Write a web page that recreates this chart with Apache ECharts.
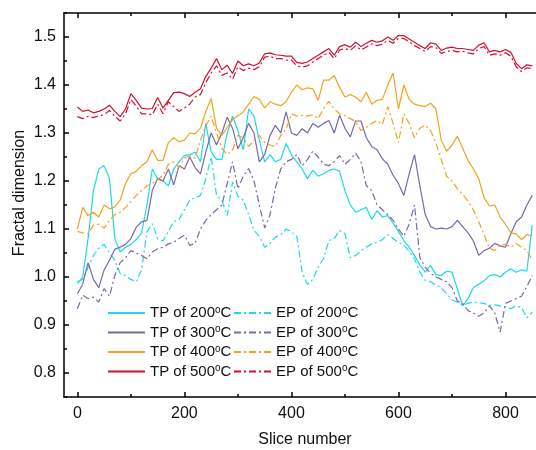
<!DOCTYPE html>
<html><head><meta charset="utf-8">
<script src="https://cdn.jsdelivr.net/npm/echarts@6/dist/echarts.min.js"></script>
<style>html,body{margin:0;padding:0;background:#fff}#c{width:536px;height:450px}</style>
</head><body><div id="c"></div>
<script>
// slice numbers (every 10th slice)
const slices = [];
for (let s = 0; s <= 850; s += 10) slices.push(s);

const tp200 = [0.986,1.000,1.080,1.180,1.225,1.232,1.205,1.080,1.052,1.062,
1.068,1.078,1.092,1.150,1.225,1.205,1.200,1.190,1.225,1.240,
1.253,1.255,1.260,1.240,1.320,1.260,1.245,1.245,1.300,1.335,
1.305,1.265,1.350,1.335,1.285,1.240,1.255,1.240,1.245,1.278,
1.255,1.240,1.225,1.205,1.222,1.210,1.215,1.222,1.225,1.220,
1.180,1.150,1.135,1.140,1.145,1.120,1.138,1.125,1.128,1.112,
1.095,1.076,1.062,1.045,1.025,1.010,1.024,1.005,1.003,1.012,
1.010,0.975,0.940,0.955,0.978,0.985,0.992,1.003,1.005,1.000,
1.010,1.017,1.010,1.015,1.012,1.108];
const ep200 = [0.990,0.995,1.020,1.045,1.060,1.068,1.050,1.035,1.007,1.003,
0.995,0.990,1.015,1.094,1.111,1.080,1.075,1.095,1.115,1.120,
1.140,1.160,1.165,1.170,1.205,1.250,1.170,1.160,1.128,1.198,
1.168,1.160,1.130,1.097,1.085,1.062,1.070,1.083,1.088,1.100,
1.094,1.085,1.010,0.985,0.995,1.021,1.038,1.076,1.080,1.097,
1.090,1.040,1.045,1.055,1.062,1.069,1.072,1.078,1.088,1.080,
1.072,1.066,1.054,1.038,1.010,0.993,0.990,0.983,0.978,0.965,
0.952,0.948,0.941,0.945,0.948,0.946,0.945,0.941,0.942,0.940,
0.938,0.934,0.940,0.936,0.915,0.927];
const tp300 = [0.965,0.985,1.030,0.995,0.978,1.015,1.035,1.058,1.062,1.068,
1.080,1.104,1.115,1.118,1.180,1.205,1.200,1.225,1.192,1.232,
1.225,1.250,1.228,1.215,1.260,1.300,1.275,1.300,1.333,1.310,
1.267,1.290,1.320,1.300,1.240,1.255,1.295,1.316,1.300,1.344,
1.300,1.295,1.309,1.300,1.320,1.312,1.320,1.326,1.300,1.337,
1.310,1.292,1.325,1.325,1.290,1.272,1.265,1.246,1.235,1.212,
1.195,1.170,1.215,1.255,1.190,1.130,1.105,1.100,1.102,1.100,
1.105,1.118,1.105,1.092,1.075,1.045,1.055,1.060,1.070,1.065,
1.062,1.090,1.115,1.125,1.150,1.170];
const ep300 = [0.934,0.962,0.955,0.958,0.948,0.976,0.960,1.003,1.030,1.040,
1.055,1.050,1.045,1.038,1.052,1.059,1.062,1.069,1.072,1.080,
1.087,1.066,1.070,1.100,1.118,1.130,1.140,1.150,1.195,1.240,
1.184,1.210,1.226,1.200,1.150,1.102,1.130,1.185,1.225,1.240,
1.245,1.255,1.232,1.245,1.262,1.250,1.235,1.232,1.240,1.253,
1.235,1.245,1.258,1.240,1.190,1.180,1.150,1.140,1.130,1.118,
1.100,1.085,1.110,1.150,1.040,1.020,1.008,1.000,0.995,0.990,
0.978,0.950,0.945,0.930,0.925,0.918,0.925,0.940,0.925,0.885,
0.945,0.950,0.955,0.960,0.980,1.003];
const tp400 = [1.100,1.145,1.128,1.135,1.125,1.150,1.142,1.146,1.160,1.195,
1.215,1.220,1.232,1.240,1.265,1.243,1.243,1.280,1.290,1.282,
1.285,1.300,1.298,1.310,1.345,1.372,1.310,1.295,1.312,1.328,
1.336,1.344,1.360,1.376,1.370,1.352,1.365,1.360,1.357,1.365,
1.385,1.400,1.390,1.394,1.392,1.368,1.410,1.410,1.420,1.395,
1.375,1.380,1.375,1.365,1.385,1.360,1.368,1.370,1.400,1.425,
1.350,1.400,1.370,1.360,1.357,1.355,1.362,1.350,1.285,1.262,
1.275,1.293,1.268,1.243,1.225,1.205,1.165,1.148,1.150,1.125,
1.110,1.092,1.090,1.078,1.088,1.085];
const ep400 = [1.095,1.092,1.090,1.108,1.110,1.102,1.118,1.130,1.135,1.145,
1.157,1.170,1.180,1.190,1.195,1.203,1.212,1.235,1.240,1.228,
1.248,1.252,1.248,1.285,1.315,1.335,1.300,1.268,1.255,1.265,
1.295,1.290,1.272,1.285,1.295,1.280,1.275,1.272,1.295,1.308,
1.340,1.335,1.337,1.335,1.338,1.330,1.351,1.366,1.350,1.340,
1.336,1.330,1.324,1.305,1.312,1.320,1.326,1.318,1.355,1.320,
1.280,1.340,1.320,1.290,1.310,1.316,1.305,1.280,1.245,1.210,
1.200,1.184,1.172,1.158,1.140,1.115,1.088,1.060,1.055,1.066,
1.068,1.062,1.070,1.062,1.055,1.035];
const tp500 = [1.354,1.345,1.348,1.342,1.345,1.350,1.358,1.345,1.334,1.350,
1.382,1.368,1.352,1.350,1.351,1.374,1.352,1.368,1.384,1.385,
1.382,1.376,1.385,1.392,1.418,1.435,1.455,1.432,1.441,1.424,
1.450,1.440,1.444,1.440,1.446,1.465,1.467,1.463,1.462,1.460,
1.460,1.447,1.445,1.448,1.455,1.462,1.469,1.476,1.462,1.480,
1.484,1.479,1.489,1.480,1.487,1.493,1.489,1.492,1.500,1.493,
1.503,1.503,1.496,1.489,1.482,1.476,1.488,1.485,1.472,1.477,
1.479,1.476,1.476,1.474,1.472,1.483,1.488,1.469,1.472,1.469,
1.474,1.468,1.445,1.434,1.442,1.440];
const ep500 = [1.334,1.330,1.335,1.332,1.336,1.338,1.347,1.335,1.325,1.340,
1.370,1.356,1.340,1.340,1.338,1.360,1.340,1.365,1.355,1.345,
1.352,1.360,1.375,1.380,1.405,1.425,1.440,1.420,1.425,1.412,
1.438,1.430,1.435,1.432,1.438,1.458,1.460,1.455,1.455,1.452,
1.452,1.440,1.437,1.440,1.448,1.455,1.462,1.468,1.455,1.473,
1.476,1.472,1.482,1.473,1.479,1.486,1.482,1.485,1.493,1.487,
1.497,1.497,1.490,1.482,1.476,1.470,1.480,1.478,1.466,1.470,
1.472,1.469,1.470,1.467,1.465,1.476,1.480,1.462,1.465,1.462,
1.467,1.460,1.438,1.428,1.436,1.434];

const xMajorTicks = [0, 200, 400, 600, 800];
const xMinorTicks = [100, 300, 500, 700];
const yMajorTicks = [0.8, 0.9, 1.0, 1.1, 1.2, 1.3, 1.4, 1.5];
const yMinorTicks = [0.75, 0.85, 0.95, 1.05, 1.15, 1.25, 1.35, 1.45, 1.55];

const seriesDefs = [
  {name: 'TP of 200oC', data: tp200, color: '#1ad8ef', dash: false},
  {name: 'EP of 200oC', data: ep200, color: '#1ad8ef', dash: true},
  {name: 'TP of 300oC', data: tp300, color: '#7b68a6', dash: false},
  {name: 'EP of 300oC', data: ep300, color: '#7b68a6', dash: true},
  {name: 'TP of 400oC', data: tp400, color: '#f4a21e', dash: false},
  {name: 'EP of 400oC', data: ep400, color: '#f4a21e', dash: true},
  {name: 'TP of 500oC', data: tp500, color: '#d01030', dash: false},
  {name: 'EP of 500oC', data: ep500, color: '#d01030', dash: true}
];

const FONT = 'Liberation Sans, Arial, sans-serif';
const chart = echarts.init(document.getElementById('c'), null, {renderer: 'canvas'});
const axisCol = '#000';
const legendBase = {
  orient: 'vertical', top: 305, padding: 0, itemWidth: 37, itemHeight: 14, itemGap: 4,
  itemStyle: {color: 'transparent', borderColor: 'transparent', borderWidth: 0, opacity: 0},
  textStyle: {fontSize: 15, color: '#111', fontFamily: FONT,
    rich: {sup: {fontSize: 10, verticalAlign: 'top', lineHeight: 10, color: '#111', fontFamily: FONT},
           n: {fontSize: 15, lineHeight: 16, color: '#111', fontFamily: FONT}}},
  formatter: name => '{n|' + name.replace('oC', '}{sup|o}{n|C}')
};
const xBase = {type: 'value', min: -25, max: 900, gridIndex: 0, splitLine: {show: false}};
const yBase = {type: 'value', min: 0.75, max: 1.55, gridIndex: 0, splitLine: {show: false}};

chart.setOption({
  animation: false,
  backgroundColor: '#fff',
  textStyle: {fontFamily: FONT},
  grid: {left: 64, top: 13, width: 495, height: 384, containLabel: false, outerBoundsMode: 'none'},
  legend: [
    Object.assign({}, legendBase, {left: 107, data: seriesDefs.filter(d => !d.dash).map(d => d.name)}),
    Object.assign({}, legendBase, {left: 233, data: seriesDefs.filter(d => d.dash).map(d => d.name)})
  ],
  xAxis: [
    Object.assign({}, xBase, {position: 'bottom',
      axisLine: {show: true, onZero: false, lineStyle: {color: axisCol, width: 1.5}},
      axisTick: {show: true, inside: true, length: 5, customValues: xMajorTicks, lineStyle: {color: axisCol, width: 1.5}},
      axisLabel: {show: true, customValues: xMajorTicks, fontSize: 16, color: '#111', margin: 9}}),
    Object.assign({}, xBase, {position: 'bottom',
      axisLine: {show: false, onZero: false},
      axisTick: {show: true, inside: true, length: 3, customValues: xMinorTicks, lineStyle: {color: axisCol, width: 1.5}},
      axisLabel: {show: false}}),
    Object.assign({}, xBase, {position: 'top',
      axisLine: {show: true, onZero: false, lineStyle: {color: axisCol, width: 1.5}},
      axisTick: {show: true, inside: true, length: 5, customValues: xMajorTicks, lineStyle: {color: axisCol, width: 1.5}},
      axisLabel: {show: false}}),
    Object.assign({}, xBase, {position: 'top',
      axisLine: {show: false, onZero: false},
      axisTick: {show: true, inside: true, length: 3, customValues: xMinorTicks, lineStyle: {color: axisCol, width: 1.5}},
      axisLabel: {show: false}})
  ],
  yAxis: [
    Object.assign({}, yBase, {position: 'left',
      axisLine: {show: true, onZero: false, lineStyle: {color: axisCol, width: 1.5}},
      axisTick: {show: true, inside: true, length: 5, customValues: yMajorTicks, lineStyle: {color: axisCol, width: 1.5}},
      axisLabel: {show: true, customValues: yMajorTicks, fontSize: 16, color: '#111', margin: 8,
        formatter: v => Number(v).toFixed(1)}}),
    Object.assign({}, yBase, {position: 'left',
      axisLine: {show: false, onZero: false},
      axisTick: {show: true, inside: true, length: 3, customValues: yMinorTicks, lineStyle: {color: axisCol, width: 1.5}},
      axisLabel: {show: false}})
  ],
  graphic: [
    {type: 'text', x: 305, y: 440,
      style: {text: 'Slice number', fontSize: 16, fill: '#111', align: 'center', verticalAlign: 'middle', fontFamily: FONT}},
    {type: 'text', x: 12, y: 193, rotation: Math.PI / 2,
      style: {text: 'Fractal dimension', fontSize: 16, fill: '#111', align: 'center', verticalAlign: 'top', fontFamily: FONT}}
  ],
  series: seriesDefs.map(d => ({
    name: d.name, type: 'line', xAxisIndex: 0, yAxisIndex: 0,
    data: slices.map((s, i) => [s, d.data[i]]),
    symbol: 'none', showSymbol: false, smooth: false,
    color: d.color,
    lineStyle: {color: d.color, width: 1.2, type: d.dash ? [7, 3, 2, 3] : 'solid'},
    emphasis: {disabled: true}
  }))
});
</script></body></html>
